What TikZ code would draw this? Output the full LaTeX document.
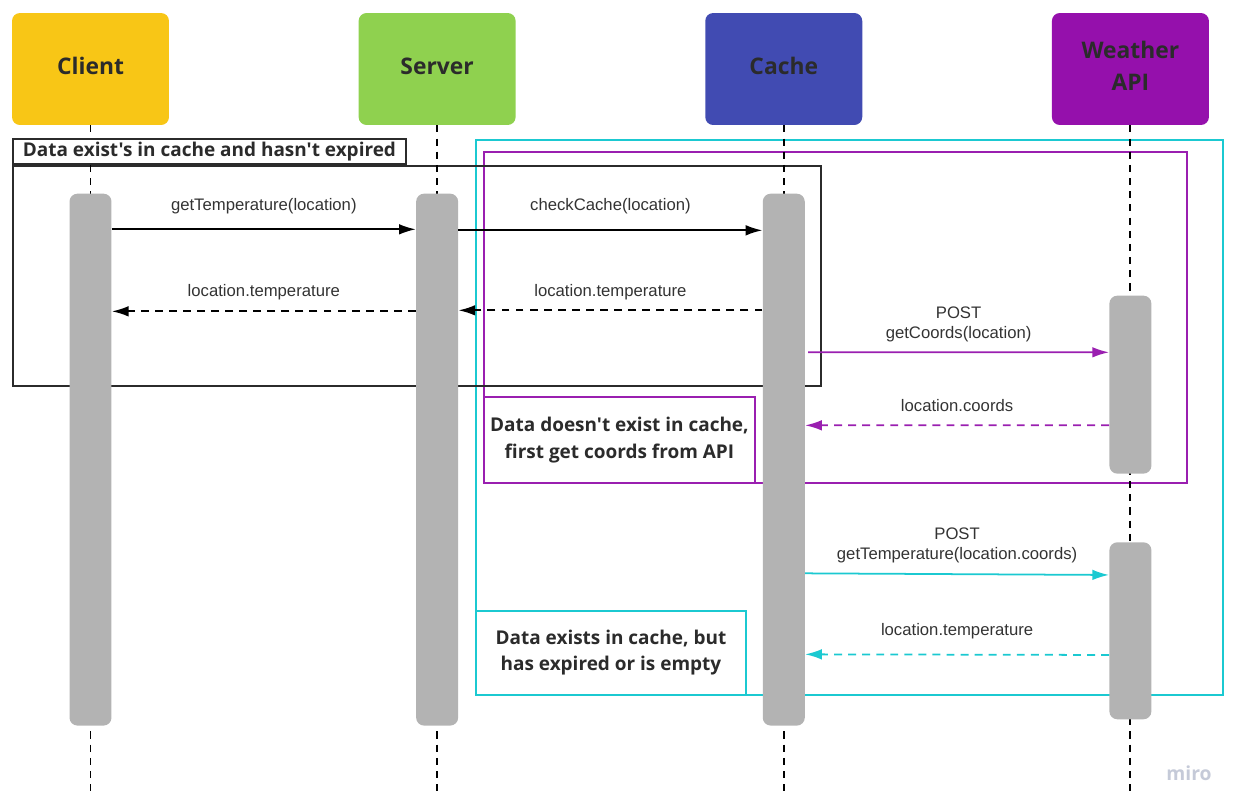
\documentclass[tikz,border=0pt]{standalone}
\usepackage{fontspec}
\setmainfont{Liberation Sans}
\newfontfamily\boxfont{Open Sans}
\usetikzlibrary{positioning, calc, arrows.meta}
\definecolor{clientc}{HTML}{F8C616}
\definecolor{serverc}{HTML}{8FD14F}
\definecolor{cachec}{HTML}{414BB2}
\definecolor{apic}{HTML}{9510AC}
\definecolor{headtext}{HTML}{2B2B2B}
\definecolor{barc}{HTML}{B3B3B3}
\definecolor{cyanc}{HTML}{1BC9D1}
\definecolor{purplec}{HTML}{9A1FB0}
\definecolor{msgtext}{HTML}{333333}
\definecolor{miroc}{HTML}{C5CAD8}
\tikzstyle{Head} = [rectangle, rounded corners=4.5pt, minimum width=3.14cm,
  minimum height=2.24cm, text=headtext, align=center, text depth=3.5pt,
  font=\boxfont\bfseries\fontsize{13}{18}\selectfont]
\tikzstyle{Life} = [line width=1.1pt, dash pattern=on 4pt off 3.5pt]
\tikzstyle{Bar} = [rectangle, rounded corners=4.5pt, fill=barc,
  minimum width=0.84cm, inner sep=0pt]
\tikzstyle{Frame} = [rectangle, draw, line width=1.1pt, anchor=north west, inner sep=0pt]
\tikzstyle{Tag} = [rectangle, draw, line width=1.1pt, fill=white, inner sep=0pt,
  anchor=south west, align=center, text=headtext,
  font=\boxfont\bfseries\fontsize{10.8}{15}\selectfont]
\tikzstyle{Arrow} = [line width=1pt, -{Latex[length=9.5pt,width=6pt]}]
\tikzstyle{Reply} = [Arrow, dash pattern=on 4.5pt off 3.5pt]
\tikzstyle{Msg} = [text=msgtext, align=center, font=\fontsize{9.5}{11.4}\selectfont]

\begin{document}
\begin{tikzpicture}[x=0.02cm, y=-0.02cm]
    \useasboundingbox (0,0) rectangle (1235,809);
    % participants
    \node [Head, fill=clientc] (client) at (90.5,69) {Client};
    \node [Head, fill=serverc, right=3.78cm of client] (server) {Server};
    \node [Head, fill=cachec, right=3.78cm of server] (cache) {Cache};
    \node [Head, fill=apic, right=3.78cm of cache] (api) {Weather\\API};
    % frames
    \node [Frame, draw=cyanc, minimum width=14.94cm, minimum height=11.1cm] (cyanframe) at (475,139) {};
    \node [Frame, draw=purplec, minimum width=14.06cm, minimum height=6.62cm] (purpleframe) at (483,151) {};
    \node [Frame, draw=headtext, minimum width=16.16cm, minimum height=4.4cm] (blackframe) at (12,165) {};
    % lifelines
    \coordinate (bottom) at (0,795);
    \foreach \p in {client, server, cache, api}
        \draw[Life] (\p.south) -- (\p.south |- bottom);
    \node [Tag, draw=headtext, minimum width=7.86cm, minimum height=0.5cm] (blacktag)
      at (blackframe.north west) {Data exist's in cache and hasn't expired};
    \node [Tag, draw=purplec, minimum width=5.42cm, minimum height=1.72cm] (purpletag)
      at (purpleframe.south west) {Data doesn't exist in cache,\\first get coords from API};
    \node [Tag, draw=cyanc, minimum width=5.4cm, minimum height=1.68cm] (cyantag)
      at (cyanframe.south west) {Data exists in cache, but\\has expired or is empty};
    % activations
    \node [Bar, minimum height=10.64cm, below=1.36cm of client] (clientbar) {};
    \node [Bar, minimum height=10.64cm, below=1.36cm of server] (serverbar) {};
    \node [Bar, minimum height=10.64cm, below=1.36cm of cache] (cachebar) {};
    \node [Bar, minimum height=3.56cm, below=3.4cm of api] (apibar1) {};
    \node [Bar, minimum height=3.54cm, below=1.36cm of apibar1] (apibar2) {};
    % messages
    \draw[Arrow] ($(clientbar.north east)+(0,36)$) -- node[Msg, above=5pt] {getTemperature(location)}
        ($(serverbar.north west)+(0,36)$);
    \draw[Arrow] ($(serverbar.north east)+(0,37)$) -- node[Msg, above=5.5pt] {checkCache(location)}
        ($(cachebar.north west)+(0,37)$);
    \draw[Reply] ($(serverbar.north west)+(0,118)$) -- node[Msg, above=2.6pt] {location.temperature}
        ($(clientbar.north east)+(0,118)$);
    \draw[Reply] ($(cachebar.north west)+(0,117)$) -- node[Msg, above=2pt] {location.temperature}
        ($(serverbar.north east)+(0,117)$);
    \draw[Arrow, purplec] ($(cachebar.north east)+(3,159)$) -- node[Msg, above=2pt] {POST\\getCoords(location)}
        ($(apibar1.north west)+(0,57)$);
    \draw[Reply, purplec] ($(apibar1.north west)+(0,130)$) -- node[Msg, above=3.7pt] {location.coords}
        ($(cachebar.north east)+(0,232)$);
    \draw[Arrow, cyanc] ($(cachebar.north east)+(0,380)$) -- node[Msg, above=2.5pt] {POST\\getTemperature(location.coords)}
        ($(apibar2.north west)+(0,33)$);
    \draw[Reply, cyanc] ($(apibar2.north west)+(0,113)$) -- node[Msg, above=5pt] {location.temperature}
        ($(cachebar.north east)+(0,461)$);
    \node [text=miroc, font=\boxfont\bfseries\fontsize{11}{13}\selectfont] (miro) at (1189,773) {miro};
\end{tikzpicture}
\end{document}
